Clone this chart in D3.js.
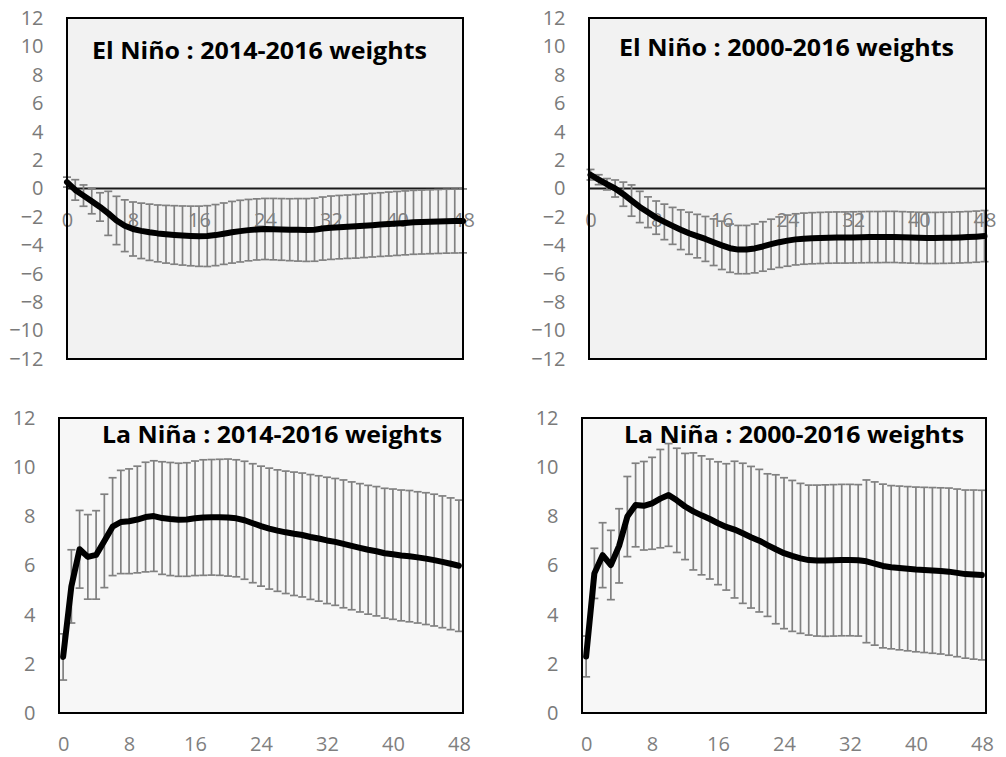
<!DOCTYPE html>
<html>
<head>
<meta charset="utf-8">
<script src="https://cdn.jsdelivr.net/npm/d3@7"></script>
<style>
  body { margin: 0; background: #fff; }
  text { font-family: "Open Sans", "Noto Sans", sans-serif; }
</style>
</head>
<body>
<svg id="chart" width="1006" height="757"></svg>
<script>
// lags (months) on the x axis
var lags = [0,1,2,3,4,5,6,7,8,9,10,11,12,13,14,15,16,17,18,19,20,21,22,23,24,
            25,26,27,28,29,30,31,32,33,34,35,36,37,38,39,40,41,42,43,44,45,46,47,48];
var xTickLabels = [0, 8, 16, 24, 32, 40, 48];
var yTicksNino = [-12, -10, -8, -6, -4, -2, 0, 2, 4, 6, 8, 10, 12];
var yTicksNina = [0, 2, 4, 6, 8, 10, 12];

var titles = [
  "El Niño : 2014-2016 weights",
  "El Niño : 2000-2016 weights",
  "La Niña : 2014-2016 weights",
  "La Niña : 2000-2016 weights"
];

// El Nino, 2014-2016 weights
var nino1416 = [0.45,-0.1,-0.5,-0.9,-1.3,-1.75,-2.25,-2.62,-2.85,-2.98,
  -3.08,-3.16,-3.22,-3.27,-3.31,-3.34,-3.36,-3.35,-3.28,-3.18,
  -3.08,-3.0,-2.93,-2.88,-2.85,-2.86,-2.88,-2.9,-2.91,-2.92,
  -2.9,-2.82,-2.76,-2.72,-2.69,-2.66,-2.62,-2.58,-2.54,-2.5,
  -2.46,-2.42,-2.38,-2.36,-2.34,-2.32,-2.3,-2.29,-2.28];
var nino1416Err = [0.35,0.72,0.75,0.88,1.0,1.55,1.7,1.82,1.9,1.95,
  1.98,2.0,2.03,2.06,2.08,2.1,2.12,2.14,2.15,2.16,
  2.17,2.17,2.16,2.15,2.15,2.16,2.17,2.18,2.2,2.21,
  2.22,2.22,2.23,2.23,2.23,2.24,2.24,2.24,2.24,2.25,
  2.25,2.25,2.25,2.25,2.25,2.25,2.25,2.25,2.25];

// El Nino, 2000-2016 weights
var nino0016 = [0.97,0.62,0.3,0.0,-0.4,-0.85,-1.3,-1.67,-2.05,-2.35,
  -2.63,-2.9,-3.15,-3.35,-3.55,-3.78,-4.0,-4.2,-4.3,-4.3,
  -4.22,-4.08,-3.92,-3.78,-3.67,-3.58,-3.53,-3.5,-3.48,-3.46,
  -3.45,-3.45,-3.44,-3.43,-3.42,-3.42,-3.41,-3.41,-3.43,-3.45,
  -3.47,-3.48,-3.48,-3.47,-3.46,-3.44,-3.42,-3.39,-3.35];
var nino0016Err = [0.37,0.35,0.4,0.6,0.85,1.1,1.1,1.08,1.17,1.25,
  1.3,1.4,1.48,1.53,1.58,1.64,1.7,1.7,1.7,1.7,
  1.72,1.74,1.76,1.78,1.8,1.8,1.8,1.8,1.8,1.8,
  1.8,1.8,1.8,1.8,1.8,1.8,1.8,1.8,1.8,1.8,
  1.8,1.8,1.8,1.8,1.8,1.8,1.8,1.8,1.8];

// La Nina, 2014-2016 weights
var nina1416 = [2.28,5.15,6.66,6.35,6.43,7.0,7.58,7.77,7.8,7.87,
  7.97,8.01,7.93,7.89,7.86,7.87,7.92,7.95,7.96,7.96,
  7.95,7.92,7.84,7.72,7.6,7.5,7.42,7.35,7.29,7.24,
  7.16,7.1,7.02,6.96,6.88,6.8,6.72,6.64,6.58,6.5,
  6.46,6.41,6.38,6.33,6.28,6.22,6.15,6.07,5.99];
var nina1416Err = [0.94,1.49,1.58,1.72,1.8,1.9,1.99,2.1,2.13,2.17,
  2.23,2.25,2.29,2.3,2.3,2.31,2.33,2.35,2.35,2.36,
  2.38,2.38,2.4,2.42,2.44,2.46,2.47,2.49,2.51,2.52,
  2.54,2.55,2.57,2.58,2.6,2.6,2.61,2.62,2.63,2.64,
  2.65,2.66,2.67,2.67,2.68,2.68,2.68,2.68,2.67];

// La Nina, 2000-2016 weights
var nina0016 = [2.3,5.68,6.42,6.02,6.8,7.99,8.46,8.43,8.53,8.72,
  8.87,8.65,8.4,8.2,8.04,7.89,7.72,7.57,7.46,7.31,
  7.15,7.01,6.83,6.66,6.5,6.39,6.29,6.22,6.2,6.2,
  6.21,6.22,6.22,6.21,6.17,6.08,5.98,5.93,5.9,5.87,
  5.84,5.82,5.8,5.78,5.75,5.7,5.65,5.63,5.61];
var nina0016Err = [0.83,1.02,1.32,1.41,1.51,1.63,1.7,1.8,1.87,2.0,
  2.09,2.12,2.16,2.38,2.42,2.44,2.5,2.57,2.78,2.85,
  2.88,2.9,2.9,3.03,3.07,3.07,3.05,3.05,3.07,3.08,
  3.08,3.08,3.08,3.08,3.31,3.32,3.33,3.32,3.33,3.34,
  3.35,3.36,3.37,3.38,3.4,3.41,3.42,3.44,3.45];

var svg = d3.select("#chart");

function drawPanel(p) {
  var g = svg.append("g");

  // x scale: El Nino panels put points on tick marks, La Nina between them
  var x = d3.scalePoint()
    .domain(lags)
    .range([p.left + p.inset, p.right - p.inset])
    .padding(p.pad);

  var y = d3.scaleLinear()
    .domain(p.domain)
    .range([p.bottom, p.top]);

  // plot area
  g.append("rect")
    .attr("x", p.left).attr("y", p.top)
    .attr("width", p.right - p.left).attr("height", p.bottom - p.top)
    .attr("fill", p.bg);

  // zero line
  if (p.domain[0] < 0) {
    g.append("line")
      .attr("x1", p.left).attr("x2", p.right)
      .attr("y1", y(0)).attr("y2", y(0))
      .attr("stroke", "#1a1a1a").attr("stroke-width", 1.8);
  }

  // x axis labels sit under the zero line
  var xAxis = g.append("g")
    .attr("transform", "translate(0," + y(0) + ")")
    .call(d3.axisBottom(x).tickValues(xTickLabels).tickSize(0).tickPadding(24));
  xAxis.select(".domain").remove();
  xAxis.selectAll("text")
    .attr("fill", "#7f7f7f")
    .style("font-size", "20px");

  // y axis
  var yAxis = g.append("g")
    .attr("transform", "translate(" + p.left + ",0)")
    .call(d3.axisLeft(y).tickValues(p.yTicks).tickSize(0).tickPadding(23.5));
  yAxis.select(".domain").remove();
  yAxis.selectAll("text")
    .attr("fill", "#7a7a7a")
    .style("font-size", "20px");

  // error bars
  var bars = g.append("g")
    .attr("stroke", "#808080")
    .attr("stroke-width", 1.7)
    .selectAll("g")
    .data(lags)
    .enter().append("g");

  bars.append("line")
    .attr("x1", d => x(d)).attr("x2", d => x(d))
    .attr("y1", d => y(p.mean[d] + p.err[d]))
    .attr("y2", d => y(p.mean[d] - p.err[d]));
  bars.append("line")
    .attr("x1", d => x(d) - 4).attr("x2", d => x(d) + 4)
    .attr("y1", d => y(p.mean[d] + p.err[d]))
    .attr("y2", d => y(p.mean[d] + p.err[d]));
  bars.append("line")
    .attr("x1", d => x(d) - 4).attr("x2", d => x(d) + 4)
    .attr("y1", d => y(p.mean[d] - p.err[d]))
    .attr("y2", d => y(p.mean[d] - p.err[d]));

  // mean response
  var line = d3.line()
    .x(d => x(d))
    .y(d => y(p.mean[d]));

  g.append("path")
    .datum(lags)
    .attr("d", line)
    .attr("fill", "none")
    .attr("stroke", "#000")
    .attr("stroke-width", 6)
    .attr("stroke-linejoin", "round")
    .attr("stroke-linecap", "round");

  // frame
  g.append("rect")
    .attr("x", p.left).attr("y", p.top)
    .attr("width", p.right - p.left).attr("height", p.bottom - p.top)
    .attr("fill", "none")
    .attr("stroke", "#000")
    .attr("stroke-width", 2);

  // title
  g.append("text")
    .attr("x", p.titleX)
    .attr("y", p.titleY)
    .attr("text-anchor", "middle")
    .attr("textLength", p.titleW)
    .attr("lengthAdjust", "spacingAndGlyphs")
    .style("font-weight", "bold")
    .style("font-size", "23px")
    .attr("fill", "#000")
    .text(p.title);
}

drawPanel({title: titles[0], mean: nino1416, err: nino1416Err,
  left: 67, right: 463, top: 18, bottom: 359, inset: 0, pad: 0,
  domain: [-12, 12], yTicks: yTicksNino, bg: "#f2f2f2",
  titleX: 259.5, titleY: 59, titleW: 335});

drawPanel({title: titles[1], mean: nino0016, err: nino0016Err,
  left: 589, right: 986, top: 18, bottom: 359, inset: 1.5, pad: 0,
  domain: [-12, 12], yTicks: yTicksNino, bg: "#f2f2f2",
  titleX: 786.5, titleY: 56, titleW: 335});

drawPanel({title: titles[2], mean: nina1416, err: nina1416Err,
  left: 59, right: 463, top: 418, bottom: 713, inset: 0, pad: 0.5,
  domain: [0, 12], yTicks: yTicksNina, bg: "#f7f7f7",
  titleX: 272, titleY: 443, titleW: 340});

drawPanel({title: titles[3], mean: nina0016, err: nina0016Err,
  left: 582, right: 986, top: 418, bottom: 713, inset: 0, pad: 0.5,
  domain: [0, 12], yTicks: yTicksNina, bg: "#f7f7f7",
  titleX: 794, titleY: 443, titleW: 340});
</script>
</body>
</html>
